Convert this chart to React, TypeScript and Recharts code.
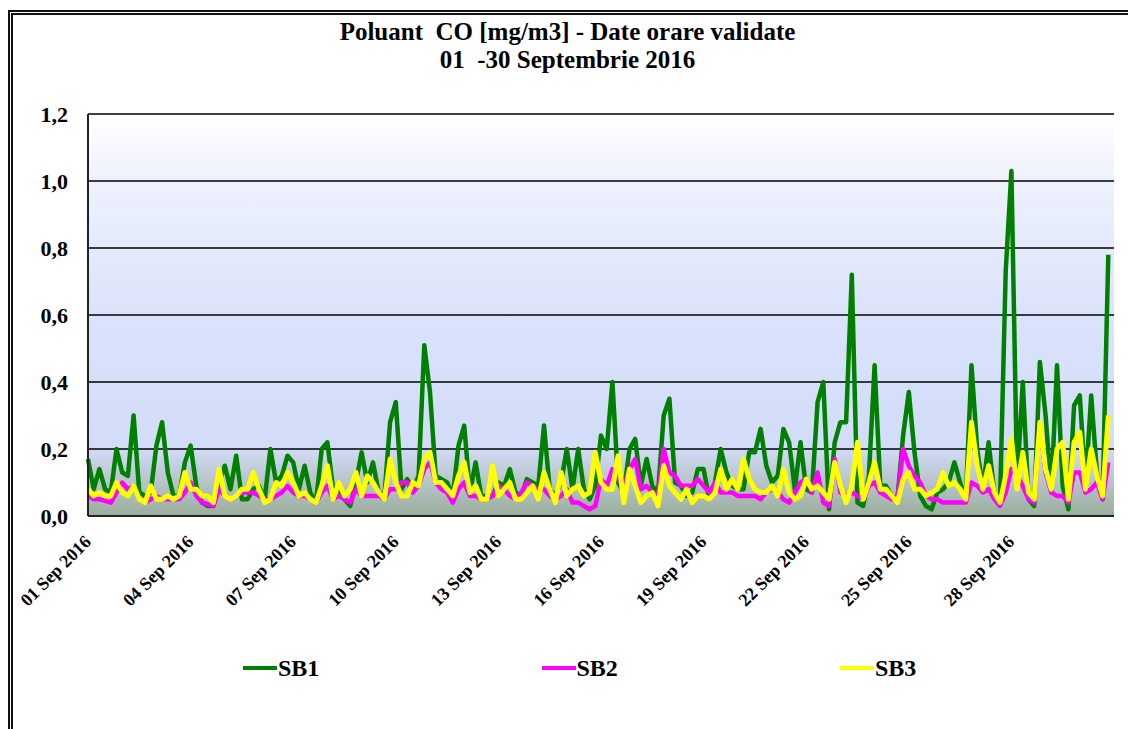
import { LineChart, Line, XAxis, YAxis, CartesianGrid } from "recharts";

// hourly data sampled every 4 hours, 01-30 Sep 2016
const STEP_HOURS = 4;
const HOURS_PER_TICK = 72;

const TICK_LABELS = [
  "01 Sep 2016",
  "04 Sep 2016",
  "07 Sep 2016",
  "10 Sep 2016",
  "13 Sep 2016",
  "16 Sep 2016",
  "19 Sep 2016",
  "22 Sep 2016",
  "25 Sep 2016",
  "28 Sep 2016",
];

const Y_TICKS = [0, 0.2, 0.4, 0.6, 0.8, 1.0, 1.2];

const SB1 = [
  0.17, 0.08, 0.14, 0.08, 0.07, 0.2, 0.13, 0.12, 0.3, 0.07, 0.06, 0.07,
  0.21, 0.28, 0.13, 0.06, 0.06, 0.16, 0.21, 0.09, 0.04, 0.03, 0.03, 0.1,
  0.15, 0.08, 0.18, 0.05, 0.05, 0.08, 0.09, 0.05, 0.2, 0.1, 0.12, 0.18,
  0.16, 0.08, 0.15, 0.07, 0.04, 0.2, 0.22, 0.08, 0.08, 0.05, 0.03, 0.1,
  0.19, 0.1, 0.16, 0.07, 0.06, 0.28, 0.34, 0.08, 0.11, 0.08, 0.12, 0.51,
  0.37, 0.12, 0.11, 0.1, 0.06, 0.21, 0.27, 0.07, 0.16, 0.06, 0.06, 0.06,
  0.1, 0.09, 0.14, 0.07, 0.06, 0.11, 0.1, 0.09, 0.27, 0.08, 0.06, 0.1,
  0.2, 0.08, 0.2, 0.08, 0.05, 0.09, 0.24, 0.2, 0.4, 0.1, 0.07, 0.2,
  0.23, 0.09, 0.17, 0.09, 0.07, 0.3, 0.35, 0.1, 0.09, 0.06, 0.07, 0.14,
  0.14, 0.05, 0.1, 0.2, 0.13, 0.09, 0.08, 0.08, 0.19, 0.19, 0.26, 0.15,
  0.1, 0.12, 0.26, 0.22, 0.08, 0.22, 0.08, 0.07, 0.34, 0.4, 0.02, 0.22,
  0.28, 0.28, 0.72, 0.04, 0.03, 0.12, 0.45, 0.09, 0.09, 0.06, 0.05, 0.24,
  0.37, 0.19, 0.06, 0.03, 0.02, 0.07, 0.08, 0.1, 0.16, 0.1, 0.05, 0.45,
  0.2, 0.08, 0.22, 0.07, 0.04, 0.73, 1.03, 0.1, 0.4, 0.05, 0.03, 0.46,
  0.3, 0.07, 0.45, 0.09, 0.02, 0.33, 0.36, 0.09, 0.36, 0.13, 0.05, 0.78,
];

const SB2 = [
  0.06, 0.05, 0.05, 0.045, 0.04, 0.07, 0.1, 0.08, 0.09, 0.05, 0.04, 0.05,
  0.06, 0.05, 0.05, 0.05, 0.05, 0.07, 0.1, 0.06, 0.04, 0.035, 0.03, 0.08,
  0.06, 0.05, 0.06, 0.07, 0.07, 0.07, 0.06, 0.05, 0.05, 0.06, 0.07, 0.09,
  0.07, 0.06, 0.06, 0.05, 0.04, 0.07, 0.09, 0.05, 0.06, 0.05, 0.04, 0.08,
  0.06, 0.06, 0.06, 0.06, 0.05, 0.08, 0.08, 0.1, 0.1, 0.07, 0.09, 0.14,
  0.16, 0.1, 0.08, 0.07, 0.04, 0.08, 0.1, 0.06, 0.06, 0.05, 0.05, 0.06,
  0.09, 0.08, 0.06, 0.05, 0.07, 0.1, 0.09, 0.08, 0.08, 0.06, 0.05, 0.06,
  0.08, 0.04, 0.04, 0.03, 0.02, 0.03, 0.11, 0.09, 0.14, 0.11, 0.09, 0.14,
  0.17, 0.08, 0.09, 0.07, 0.06, 0.2, 0.13, 0.12, 0.09, 0.09, 0.09, 0.11,
  0.09, 0.07, 0.1, 0.07, 0.07, 0.07, 0.06, 0.06, 0.06, 0.06, 0.05, 0.07,
  0.08, 0.07, 0.05, 0.04, 0.07, 0.1, 0.11, 0.07, 0.13, 0.04, 0.03, 0.17,
  0.07, 0.06, 0.07, 0.06, 0.05, 0.09, 0.1, 0.07, 0.06, 0.05, 0.05, 0.2,
  0.15, 0.12, 0.1, 0.06, 0.05, 0.05, 0.04, 0.04, 0.04, 0.04, 0.04, 0.1,
  0.09, 0.07, 0.08, 0.05, 0.03, 0.07, 0.14, 0.12, 0.09, 0.05, 0.04, 0.28,
  0.13, 0.07, 0.06, 0.06, 0.04, 0.13, 0.13, 0.07, 0.08, 0.1, 0.05, 0.16,
];

const SB3 = [
  0.08, 0.06, 0.07, 0.06, 0.06, 0.1, 0.07, 0.06, 0.09, 0.05, 0.04, 0.09,
  0.05, 0.05, 0.06, 0.05, 0.06, 0.13, 0.08, 0.08, 0.06, 0.06, 0.04, 0.14,
  0.06, 0.05, 0.06, 0.08, 0.08, 0.13, 0.08, 0.04, 0.05, 0.1, 0.09, 0.13,
  0.1, 0.06, 0.07, 0.05, 0.04, 0.09, 0.15, 0.05, 0.1, 0.06, 0.08, 0.13,
  0.06, 0.12, 0.1, 0.07, 0.05, 0.17, 0.1, 0.06, 0.06, 0.1, 0.09, 0.17,
  0.19, 0.1, 0.1, 0.08, 0.06, 0.12, 0.16, 0.07, 0.09, 0.05, 0.05, 0.15,
  0.06, 0.08, 0.1, 0.05, 0.05, 0.07, 0.09, 0.05, 0.13, 0.08, 0.04, 0.13,
  0.06, 0.08, 0.09, 0.06, 0.07, 0.19, 0.1, 0.08, 0.08, 0.18, 0.04, 0.14,
  0.09, 0.04, 0.06, 0.07, 0.03, 0.15, 0.09, 0.07, 0.05, 0.08, 0.04, 0.06,
  0.06, 0.05, 0.07, 0.14, 0.08, 0.11, 0.08, 0.17, 0.11, 0.08, 0.07, 0.07,
  0.09, 0.06, 0.14, 0.07, 0.05, 0.06, 0.11, 0.08, 0.09, 0.07, 0.05, 0.16,
  0.09, 0.04, 0.09, 0.22, 0.05, 0.1, 0.16, 0.08, 0.08, 0.06, 0.04, 0.11,
  0.13, 0.08, 0.08, 0.06, 0.07, 0.08, 0.13, 0.09, 0.1, 0.08, 0.05, 0.28,
  0.15, 0.08, 0.15, 0.07, 0.04, 0.12, 0.23, 0.08, 0.19, 0.07, 0.05, 0.28,
  0.14, 0.08, 0.2, 0.22, 0.05, 0.22, 0.25, 0.08, 0.2, 0.12, 0.06, 0.3,
];

const SERIES = [
  { key: "SB1", color: "#008000", width: 4.5, values: SB1 },
  { key: "SB2", color: "#ff00ff", width: 4.5, values: SB2 },
  { key: "SB3", color: "#ffff00", width: 5, values: SB3 },
];

const FONT = "'Liberation Serif', 'Times New Roman', serif";

const data = SB1.map((_, i) => {
  const row: Record<string, number> = { hour: i * STEP_HOURS };
  SERIES.forEach((s) => {
    row[s.key] = s.values[i];
  });
  return row;
});

const xTicks = TICK_LABELS.map((_, i) => i * HOURS_PER_TICK);

function DateTick(props: any) {
  const { x, y, payload } = props;
  const label = TICK_LABELS[Math.round(payload.value / HOURS_PER_TICK)];
  return (
    <g transform={`translate(${x + 4},${y + 27})`}>
      <text
        x={0}
        y={0}
        textAnchor="end"
        transform="rotate(-45)"
        fontFamily={FONT}
        fontWeight="bold"
        fontSize={18}
        fill="#000"
      >
        {label}
      </text>
    </g>
  );
}

export default function App() {
  return (
    <div
      style={{
        position: "fixed",
        left: 0,
        top: 0,
        width: 1128,
        height: 729,
        overflow: "hidden",
        background: "#fff",
        fontFamily: FONT,
      }}
    >
      <div
        style={{
          position: "absolute",
          left: 8,
          top: 10,
          width: 1200,
          height: 800,
          borderTop: "5px double #111",
          borderLeft: "5px double #111",
        }}
      />
      <div
        style={{
          position: "absolute",
          left: 0,
          top: 18,
          width: 1135,
          textAlign: "center",
          fontSize: 25,
          lineHeight: "28px",
          fontWeight: "bold",
          whiteSpace: "pre",
          color: "#000",
        }}
      >
        {"Poluant  CO [mg/m3] - Date orare validate\n01  -30 Septembrie 2016"}
      </div>

      <LineChart
        width={1128}
        height={729}
        data={data}
        margin={{ top: 114, right: 14, left: 28, bottom: 113 }}
        style={{ position: "absolute", left: 0, top: 0 }}
      >
        <defs>
          <linearGradient id="plotBg" x1="0" y1="0" x2="0" y2="1">
            <stop offset="0" stopColor="#ffffff" />
            <stop offset="0.17" stopColor="#eef1fd" />
            <stop offset="0.5" stopColor="#dbe3fb" />
            <stop offset="0.83" stopColor="#d2dcf8" />
            <stop offset="0.9" stopColor="#bcc8d2" />
            <stop offset="1" stopColor="#9aae9b" />
          </linearGradient>
        </defs>
        <CartesianGrid
          vertical={false}
          stroke="#000"
          strokeWidth={1.5}
          fill="url(#plotBg)"
          fillOpacity={1}
        />
        <XAxis
          dataKey="hour"
          type="number"
          domain={[0, 720]}
          ticks={xTicks}
          interval={0}
          height={100}
          tickSize={0}
          tickMargin={0}
          tickLine={false}
          axisLine={{ stroke: "#222", strokeWidth: 1.5 }}
          tick={DateTick}
        />
        <YAxis
          domain={[0, 1.2]}
          ticks={Y_TICKS}
          width={60}
          tickSize={0}
          tickMargin={20}
          tickLine={false}
          axisLine={{ stroke: "#222", strokeWidth: 2 }}
          tickFormatter={(v: number) => v.toFixed(1).replace(".", ",")}
          tick={{ fill: "#000", fontSize: 22, fontWeight: "bold", fontFamily: FONT }}
        />
        <YAxis
          yAxisId="r"
          orientation="right"
          domain={[0, 1.2]}
          width={0}
          tick={false}
          tickLine={false}
          axisLine={{ stroke: "#555", strokeWidth: 1.5 }}
        />
        {SERIES.map((s) => (
          <Line
            key={s.key}
            dataKey={s.key}
            type="linear"
            stroke={s.color}
            strokeWidth={s.width}
            strokeLinejoin="round"
            dot={false}
            isAnimationActive={false}
          />
        ))}
      </LineChart>

      {SERIES.map((s, i) => (
        <div
          key={s.key}
          style={{
            position: "absolute",
            left: 243 + i * 298.5,
            top: 652,
            height: 32,
            display: "flex",
            alignItems: "center",
          }}
        >
          <div style={{ width: 34, height: 4, background: s.color }} />
          <span style={{ fontSize: 24, fontWeight: "bold", color: "#000", marginLeft: 1 }}>
            {s.key}
          </span>
        </div>
      ))}
    </div>
  );
}
